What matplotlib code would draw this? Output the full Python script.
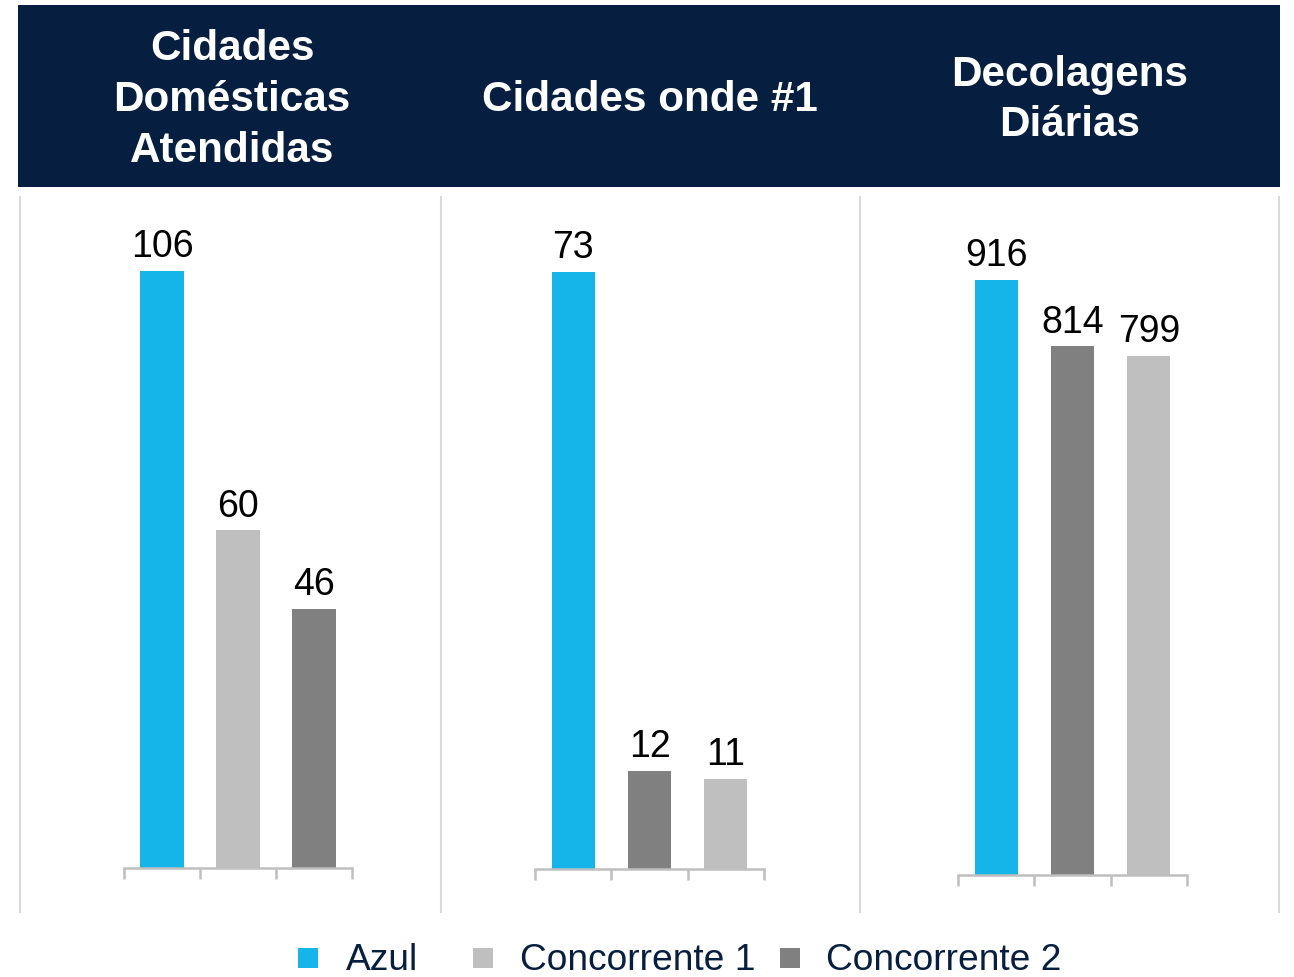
import matplotlib
matplotlib.use("Agg")
import matplotlib.pyplot as plt
from matplotlib.patches import Rectangle
from matplotlib.lines import Line2D

plt.rcParams['font.family'] = ['Liberation Sans', 'DejaVu Sans']

# ---- data ----
panel_titles = ["Cidades\nDomésticas\nAtendidas", "Cidades onde #1", "Decolagens\nDiárias"]
values_p1 = [106, 60, 46]
values_p2 = [73, 12, 11]
values_p3 = [916, 814, 799]
series_p1 = ["Azul", "Concorrente 1", "Concorrente 2"]
series_p2 = ["Azul", "Concorrente 2", "Concorrente 1"]
series_p3 = ["Azul", "Concorrente 2", "Concorrente 1"]
legend_labels = ["Azul", "Concorrente 1", "Concorrente 2"]

colors = {"Azul": "#15B5E9", "Concorrente 1": "#BFBFBF", "Concorrente 2": "#808080"}
NAVY = "#061F41"
W, H = 1294, 977

fig = plt.figure(figsize=(W / 100, H / 100), dpi=100)

def fx(x):
    return x / W

def fy(y):
    return 1 - y / H

# header band
fig.patches.append(Rectangle((fx(18), fy(187)), fx(1280) - fx(18), fy(5) - fy(187),
                             transform=fig.transFigure, facecolor=NAVY, edgecolor='none', zorder=0))
title_x = [232, 650, 1070]
for t, x in zip(panel_titles, title_x):
    fig.text(fx(x), fy(100), t, ha='center', va='center', color='white', fontsize=30.4,
             fontweight='bold', linespacing=1.35)

# separators
for x in [20, 441, 860, 1279]:
    fig.add_artist(Line2D([fx(x), fx(x)], [fy(197), fy(912)], transform=fig.transFigure,
                          color='#D9D9D9', lw=1.5))

# panels: (left px, right px, baseline px, top px)
geoms = [(124, 352, 868, 271), (535, 764, 869, 272), (958, 1187, 875, 280)]
datasets = [(values_p1, series_p1), (values_p2, series_p2), (values_p3, series_p3)]

for (l, r, b, t), (vals, sers) in zip(geoms, datasets):
    ax = fig.add_axes([fx(l), fy(b), fx(r) - fx(l), fy(t) - fy(b)])
    xs = range(len(vals))
    ax.bar(xs, vals, width=0.566, color=[colors[s] for s in sers], zorder=2)
    ax.set_xlim(-0.5, len(vals) - 0.5)
    ax.set_ylim(0, max(vals))
    for x, v in zip(xs, vals):
        ax.annotate(str(v), (x, v), xytext=(0, 4), textcoords='offset points',
                    ha='center', va='bottom', fontsize=27, color='black', annotation_clip=False)
    for side in ['top', 'right', 'left']:
        ax.spines[side].set_visible(False)
    ax.spines['bottom'].set_color('#BFBFBF')
    ax.spines['bottom'].set_linewidth(1.8)
    ax.set_yticks([])
    ax.set_xticks([i - 0.5 for i in range(len(vals) + 1)])
    ax.set_xticklabels([])
    ax.tick_params(axis='x', length=8, width=1.8, color='#BFBFBF', direction='out')
    ax.patch.set_alpha(0)

# legend
leg = [(298, 346), (473, 520), (780, 826)]
for (sx, tx), lab in zip(leg, legend_labels):
    fig.patches.append(Rectangle((fx(sx), fy(968)), fx(20), 20 / H, transform=fig.transFigure,
                                 facecolor=colors[lab], edgecolor='none'))
    fig.text(fx(tx), fy(961), lab, ha='left', va='center', fontsize=26.7, color=NAVY)

fig.savefig("out.png", dpi=100)
